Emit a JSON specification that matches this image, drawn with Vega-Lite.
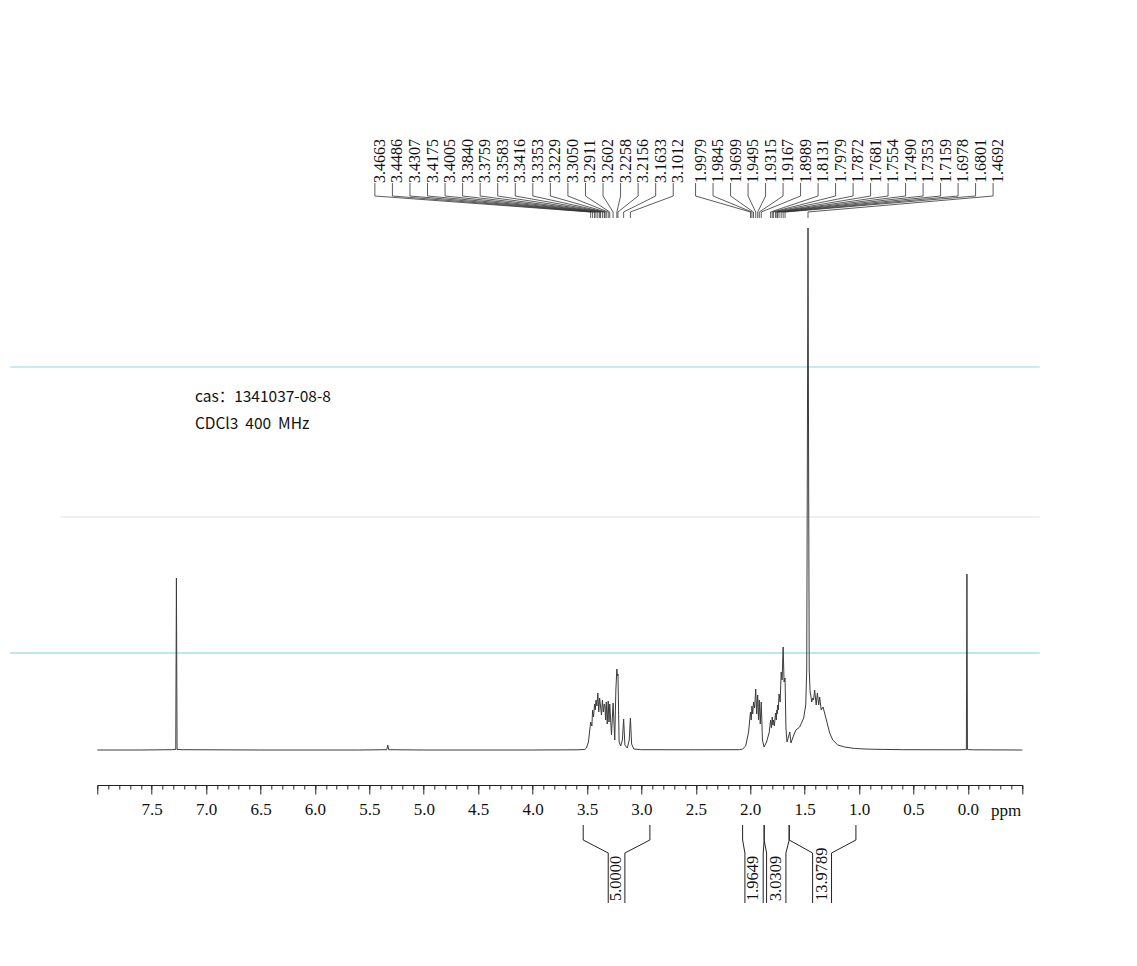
{
  "$schema": "https://vega.github.io/schema/vega-lite/v6.json",
  "width": 925,
  "height": 785,
  "autosize": {"type": "none"},
  "padding": {"left": 97.3, "top": 0, "right": 114.7, "bottom": 181},
  "background": "white",
  "config": {"view": {"stroke": null}},
  "resolve": {"axis": {"x": "independent"}},
  "datasets": {
    "spectrum": [
      {"ppm": 8.0, "i": 0}, {"ppm": 7.6, "i": 0}, {"ppm": 7.32, "i": 0.3}, {"ppm": 7.279, "i": 0.5}, {"ppm": 7.273, "i": 172}, {"ppm": 7.267, "i": 0.5}, {"ppm": 7.22, "i": 0.3},
      {"ppm": 6.5, "i": 0}, {"ppm": 5.6, "i": 0}, {"ppm": 5.34, "i": 0.3}, {"ppm": 5.331, "i": 5}, {"ppm": 5.322, "i": 0.3}, {"ppm": 5.0, "i": 0}, {"ppm": 4.0, "i": 0},
      {"ppm": 3.6, "i": 0.2}, {"ppm": 3.52, "i": 0.5}, {"ppm": 3.505, "i": 2}, {"ppm": 3.487, "i": 8}, {"ppm": 3.4663, "i": 28}, {"ppm": 3.455, "i": 24},
      {"ppm": 3.4486, "i": 40}, {"ppm": 3.44, "i": 33}, {"ppm": 3.4307, "i": 46}, {"ppm": 3.424, "i": 40}, {"ppm": 3.4175, "i": 50}, {"ppm": 3.409, "i": 44},
      {"ppm": 3.4005, "i": 57}, {"ppm": 3.392, "i": 38}, {"ppm": 3.384, "i": 52}, {"ppm": 3.3759, "i": 44}, {"ppm": 3.367, "i": 35}, {"ppm": 3.3583, "i": 50},
      {"ppm": 3.35, "i": 38}, {"ppm": 3.3416, "i": 46}, {"ppm": 3.3353, "i": 44}, {"ppm": 3.329, "i": 30}, {"ppm": 3.3229, "i": 48}, {"ppm": 3.314, "i": 26},
      {"ppm": 3.305, "i": 49}, {"ppm": 3.298, "i": 28}, {"ppm": 3.2911, "i": 46}, {"ppm": 3.275, "i": 15}, {"ppm": 3.2602, "i": 47}, {"ppm": 3.245, "i": 10},
      {"ppm": 3.235, "i": 60}, {"ppm": 3.2258, "i": 81}, {"ppm": 3.22, "i": 74}, {"ppm": 3.2156, "i": 76}, {"ppm": 3.205, "i": 8}, {"ppm": 3.19, "i": 4},
      {"ppm": 3.175, "i": 10}, {"ppm": 3.1633, "i": 31}, {"ppm": 3.152, "i": 5}, {"ppm": 3.13, "i": 2}, {"ppm": 3.112, "i": 10}, {"ppm": 3.1012, "i": 32},
      {"ppm": 3.09, "i": 6}, {"ppm": 3.07, "i": 1}, {"ppm": 3.0, "i": 0.3}, {"ppm": 2.5, "i": 0.2}, {"ppm": 2.1, "i": 0.3}, {"ppm": 2.07, "i": 1},
      {"ppm": 2.042, "i": 4}, {"ppm": 2.015, "i": 18}, {"ppm": 1.9979, "i": 38}, {"ppm": 1.991, "i": 30}, {"ppm": 1.9845, "i": 44}, {"ppm": 1.977, "i": 36},
      {"ppm": 1.9699, "i": 48}, {"ppm": 1.96, "i": 42}, {"ppm": 1.9495, "i": 61}, {"ppm": 1.941, "i": 36}, {"ppm": 1.9315, "i": 55}, {"ppm": 1.924, "i": 30},
      {"ppm": 1.9167, "i": 50}, {"ppm": 1.908, "i": 26}, {"ppm": 1.8989, "i": 48}, {"ppm": 1.888, "i": 10}, {"ppm": 1.873, "i": 3}, {"ppm": 1.85, "i": 8},
      {"ppm": 1.825, "i": 18}, {"ppm": 1.8131, "i": 30}, {"ppm": 1.805, "i": 22}, {"ppm": 1.7979, "i": 33}, {"ppm": 1.792, "i": 25}, {"ppm": 1.7872, "i": 30},
      {"ppm": 1.778, "i": 24}, {"ppm": 1.7681, "i": 37}, {"ppm": 1.761, "i": 30}, {"ppm": 1.7554, "i": 40}, {"ppm": 1.752, "i": 36}, {"ppm": 1.749, "i": 45},
      {"ppm": 1.742, "i": 40}, {"ppm": 1.7353, "i": 56}, {"ppm": 1.725, "i": 48}, {"ppm": 1.7159, "i": 78}, {"ppm": 1.707, "i": 70}, {"ppm": 1.6978, "i": 103},
      {"ppm": 1.689, "i": 68}, {"ppm": 1.6801, "i": 72}, {"ppm": 1.672, "i": 22}, {"ppm": 1.662, "i": 8}, {"ppm": 1.652, "i": 12}, {"ppm": 1.636, "i": 18},
      {"ppm": 1.626, "i": 7}, {"ppm": 1.6, "i": 15}, {"ppm": 1.58, "i": 20}, {"ppm": 1.546, "i": 23}, {"ppm": 1.525, "i": 28}, {"ppm": 1.509, "i": 32},
      {"ppm": 1.49, "i": 45}, {"ppm": 1.481, "i": 80}, {"ppm": 1.476, "i": 260}, {"ppm": 1.4692, "i": 522}, {"ppm": 1.463, "i": 260}, {"ppm": 1.458, "i": 80},
      {"ppm": 1.45, "i": 58}, {"ppm": 1.444, "i": 55}, {"ppm": 1.435, "i": 48}, {"ppm": 1.426, "i": 52}, {"ppm": 1.418, "i": 50}, {"ppm": 1.408, "i": 60},
      {"ppm": 1.394, "i": 45}, {"ppm": 1.383, "i": 57}, {"ppm": 1.371, "i": 45}, {"ppm": 1.362, "i": 53}, {"ppm": 1.348, "i": 40}, {"ppm": 1.331, "i": 43},
      {"ppm": 1.3, "i": 30}, {"ppm": 1.27, "i": 17}, {"ppm": 1.242, "i": 10}, {"ppm": 1.196, "i": 5}, {"ppm": 1.132, "i": 3}, {"ppm": 1.04, "i": 1.5},
      {"ppm": 0.9, "i": 0.8}, {"ppm": 0.6, "i": 0.3}, {"ppm": 0.1, "i": 0.2}, {"ppm": 0.014, "i": 0.4}, {"ppm": 0.009, "i": 176}, {"ppm": 0.004, "i": 0.4},
      {"ppm": -0.05, "i": 0.2}, {"ppm": -0.5, "i": 0}
    ],
    "peaks": [
      {"peak": 3.4663, "lab": 5.4494}, {"peak": 3.4486, "lab": 5.2881}, {"peak": 3.4307, "lab": 5.1269}, {"peak": 3.4175, "lab": 4.9656},
      {"peak": 3.4005, "lab": 4.8043}, {"peak": 3.3840, "lab": 4.6431}, {"peak": 3.3759, "lab": 4.4818}, {"peak": 3.3583, "lab": 4.3205},
      {"peak": 3.3416, "lab": 4.1592}, {"peak": 3.3353, "lab": 3.9979}, {"peak": 3.3229, "lab": 3.8367}, {"peak": 3.3050, "lab": 3.6754},
      {"peak": 3.2911, "lab": 3.5141}, {"peak": 3.2602, "lab": 3.3528}, {"peak": 3.2258, "lab": 3.1916}, {"peak": 3.2156, "lab": 3.0303},
      {"peak": 3.1633, "lab": 2.8690}, {"peak": 3.1012, "lab": 2.7077},
      {"peak": 1.9979, "lab": 2.5024}, {"peak": 1.9845, "lab": 2.3415}, {"peak": 1.9699, "lab": 2.1807}, {"peak": 1.9495, "lab": 2.0199},
      {"peak": 1.9315, "lab": 1.8591}, {"peak": 1.9167, "lab": 1.6983}, {"peak": 1.8989, "lab": 1.5375}, {"peak": 1.8131, "lab": 1.3766},
      {"peak": 1.7979, "lab": 1.2158}, {"peak": 1.7872, "lab": 1.0550}, {"peak": 1.7681, "lab": 0.8942}, {"peak": 1.7554, "lab": 0.7334},
      {"peak": 1.7490, "lab": 0.5726}, {"peak": 1.7353, "lab": 0.4117}, {"peak": 1.7159, "lab": 0.2509}, {"peak": 1.6978, "lab": 0.0901},
      {"peak": 1.6801, "lab": -0.0707}, {"peak": 1.4692, "lab": -0.2315}
    ],
    "intSides": [
      {"val": "5.0000", "o": 3.535, "n": 3.305}, {"val": "5.0000", "o": 2.922, "n": 3.152},
      {"val": "1.9649", "o": 2.070, "n": 2.049}, {"val": "1.9649", "o": 1.872, "n": 1.881},
      {"val": "3.0309", "o": 1.872, "n": 1.850}, {"val": "3.0309", "o": 1.642, "n": 1.672},
      {"val": "13.9789", "o": 1.642, "n": 1.427}, {"val": "13.9789", "o": 1.029, "n": 1.253}
    ],
    "intLabels": [
      {"val": "5.0000", "lab": 3.232}, {"val": "1.9649", "lab": 1.971}, {"val": "3.0309", "lab": 1.760}, {"val": "13.9789", "lab": 1.339}
    ],
    "scanLines": [
      {"kind": "cyan1", "level": 383, "from": 8.8, "to": -0.66},
      {"kind": "gray", "level": 233, "from": 8.34, "to": -0.66},
      {"kind": "cyan2", "level": 97, "from": 8.8, "to": -0.66}
    ],
    "notes": [
      {"t": "cas：1341037-08-8", "px": 7.103, "py": 353},
      {"t": "CDCl3\u00a0\u00a0400\u00a0\u00a0MHz", "px": 7.103, "py": 326}
    ],
    "unit": [{"t": "ppm", "px": -0.352, "py": -65.7}]
  },
  "layer": [
    {
      "data": {"name": "scanLines"},
      "mark": {"type": "rule", "strokeWidth": 1.2},
      "encoding": {
        "x": {
          "field": "from", "type": "quantitative",
          "scale": {"domain": [-0.5, 8], "reverse": true, "nice": false, "zero": false},
          "axis": {
            "orient": "bottom",
            "values": [8, 7.9, 7.8, 7.7, 7.6, 7.5, 7.4, 7.3, 7.2, 7.1, 7, 6.9, 6.8, 6.7, 6.6, 6.5, 6.4, 6.3, 6.2, 6.1, 6, 5.9, 5.8, 5.7, 5.6, 5.5, 5.4, 5.3, 5.2, 5.1, 5, 4.9, 4.8, 4.7, 4.6, 4.5, 4.4, 4.3, 4.2, 4.1, 4, 3.9, 3.8, 3.7, 3.6, 3.5, 3.4, 3.3, 3.2, 3.1, 3, 2.9, 2.8, 2.7, 2.6, 2.5, 2.4, 2.3, 2.2, 2.1, 2, 1.9, 1.8, 1.7, 1.6, 1.5, 1.4, 1.3, 1.2, 1.1, 1, 0.9, 0.8, 0.7, 0.6, 0.5, 0.4, 0.3, 0.2, 0.1, 0, -0.1, -0.2, -0.3, -0.4, -0.5],
            "title": null,
            "grid": false,
            "domain": false,
            "labels": false,
            "tickColor": "#222222",
            "tickWidth": 1,
            "tickSize": 4
          }
        },
        "x2": {"field": "to"},
        "y": {"field": "level", "type": "quantitative", "scale": {"domain": [-35, 750], "nice": false, "zero": false}, "axis": null},
        "color": {"field": "kind", "type": "nominal", "scale": {"domain": ["cyan1", "gray", "cyan2"], "range": ["#8edbe7", "#e2e2e2", "#7dcfdc"]}, "legend": null}
      }
    },
    {
      "data": {"name": "spectrum"},
      "mark": {"type": "line", "color": "#3c3c3c", "strokeWidth": 1, "interpolate": "linear"},
      "encoding": {
        "x": {
          "field": "ppm", "type": "quantitative",
          "scale": {"domain": [-0.5, 8], "reverse": true, "nice": false, "zero": false},
          "axis": {
            "orient": "bottom",
            "values": [8, 7.5, 7, 6.5, 6, 5.5, 5, 4.5, 4, 3.5, 3, 2.5, 2, 1.5, 1, 0.5, 0, -0.5],
            "title": null,
            "grid": false,
            "domainColor": "#222222",
            "domainWidth": 1,
            "tickColor": "#222222",
            "tickWidth": 1,
            "tickSize": 9,
            "labelExpr": "(datum.value < 7.9 && datum.value > -0.1) ? format(datum.value, '.1f') : ''",
            "labelFont": "Liberation Serif",
            "labelFontSize": 17,
            "labelColor": "#111111",
            "labelPadding": 7,
            "labelOverlap": false,
            "labelFlush": false,
            "labelBound": false
          }
        },
        "y": {"field": "i", "type": "quantitative", "scale": {"domain": [-35, 750], "nice": false, "zero": false}, "axis": null}
      }
    },
    {
      "data": {"name": "peaks"},
      "mark": {"type": "rule", "color": "#333333", "strokeWidth": 0.8},
      "encoding": {
        "x": {"field": "lab", "type": "quantitative", "scale": {"domain": [-0.5, 8], "reverse": true, "nice": false, "zero": false}, "axis": null},
        "y": {"datum": 567, "scale": {"domain": [-35, 750], "nice": false, "zero": false}, "axis": null},
        "y2": {"datum": 554}
      }
    },
    {
      "data": {"name": "peaks"},
      "mark": {"type": "rule", "color": "#333333", "strokeWidth": 0.8},
      "encoding": {
        "x": {"field": "lab", "type": "quantitative", "scale": {"domain": [-0.5, 8], "reverse": true, "nice": false, "zero": false}, "axis": null},
        "x2": {"field": "peak"},
        "y": {"datum": 554, "scale": {"domain": [-35, 750], "nice": false, "zero": false}, "axis": null},
        "y2": {"datum": 538}
      }
    },
    {
      "data": {"name": "peaks"},
      "mark": {"type": "rule", "color": "#333333", "strokeWidth": 0.8},
      "encoding": {
        "x": {"field": "peak", "type": "quantitative", "scale": {"domain": [-0.5, 8], "reverse": true, "nice": false, "zero": false}, "axis": null},
        "y": {"datum": 538, "scale": {"domain": [-35, 750], "nice": false, "zero": false}, "axis": null},
        "y2": {"datum": 532}
      }
    },
    {
      "data": {"name": "peaks"},
      "mark": {"type": "text", "angle": 270, "align": "left", "baseline": "middle", "dy": 5, "dx": 1, "font": "Liberation Serif", "fontSize": 16, "color": "#111111"},
      "encoding": {
        "x": {"field": "lab", "type": "quantitative", "scale": {"domain": [-0.5, 8], "reverse": true, "nice": false, "zero": false}, "axis": null},
        "y": {"datum": 566, "scale": {"domain": [-35, 750], "nice": false, "zero": false}, "axis": null},
        "text": {"field": "peak", "type": "quantitative", "format": ".4f"}
      }
    },
    {
      "data": {"name": "intSides"},
      "mark": {"type": "rule", "color": "#222222", "strokeWidth": 1},
      "encoding": {
        "x": {"field": "o", "type": "quantitative", "scale": {"domain": [-0.5, 8], "reverse": true, "nice": false, "zero": false}, "axis": null},
        "y": {"datum": -75, "scale": {"domain": [-35, 750], "nice": false, "zero": false}, "axis": null},
        "y2": {"datum": -90}
      }
    },
    {
      "data": {"name": "intSides"},
      "mark": {"type": "rule", "color": "#222222", "strokeWidth": 1},
      "encoding": {
        "x": {"field": "o", "type": "quantitative", "scale": {"domain": [-0.5, 8], "reverse": true, "nice": false, "zero": false}, "axis": null},
        "x2": {"field": "n"},
        "y": {"datum": -90, "scale": {"domain": [-35, 750], "nice": false, "zero": false}, "axis": null},
        "y2": {"datum": -103}
      }
    },
    {
      "data": {"name": "intSides"},
      "mark": {"type": "rule", "color": "#222222", "strokeWidth": 1},
      "encoding": {
        "x": {"field": "n", "type": "quantitative", "scale": {"domain": [-0.5, 8], "reverse": true, "nice": false, "zero": false}, "axis": null},
        "y": {"datum": -103, "scale": {"domain": [-35, 750], "nice": false, "zero": false}, "axis": null},
        "y2": {"datum": -153}
      }
    },
    {
      "data": {"name": "intLabels"},
      "mark": {"type": "text", "angle": 270, "align": "left", "baseline": "middle", "font": "Liberation Serif", "fontSize": 16.5, "color": "#111111"},
      "encoding": {
        "x": {"field": "lab", "type": "quantitative", "scale": {"domain": [-0.5, 8], "reverse": true, "nice": false, "zero": false}, "axis": null},
        "y": {"datum": -151, "scale": {"domain": [-35, 750], "nice": false, "zero": false}, "axis": null},
        "text": {"field": "val", "type": "nominal"}
      }
    },
    {
      "data": {"name": "notes"},
      "mark": {"type": "text", "align": "left", "baseline": "middle", "font": "Noto Sans CJK SC", "fontSize": 15.5, "color": "#111111"},
      "encoding": {
        "x": {"field": "px", "type": "quantitative", "scale": {"domain": [-0.5, 8], "reverse": true, "nice": false, "zero": false}, "axis": null},
        "y": {"field": "py", "type": "quantitative", "scale": {"domain": [-35, 750], "nice": false, "zero": false}, "axis": null},
        "text": {"field": "t", "type": "nominal"}
      }
    },
    {
      "data": {"name": "unit"},
      "mark": {"type": "text", "align": "center", "baseline": "alphabetic", "font": "Liberation Serif", "fontSize": 17, "color": "#111111"},
      "encoding": {
        "x": {"field": "px", "type": "quantitative", "scale": {"domain": [-0.5, 8], "reverse": true, "nice": false, "zero": false}, "axis": null},
        "y": {"field": "py", "type": "quantitative", "scale": {"domain": [-35, 750], "nice": false, "zero": false}, "axis": null},
        "text": {"field": "t", "type": "nominal"}
      }
    }
  ]
}
